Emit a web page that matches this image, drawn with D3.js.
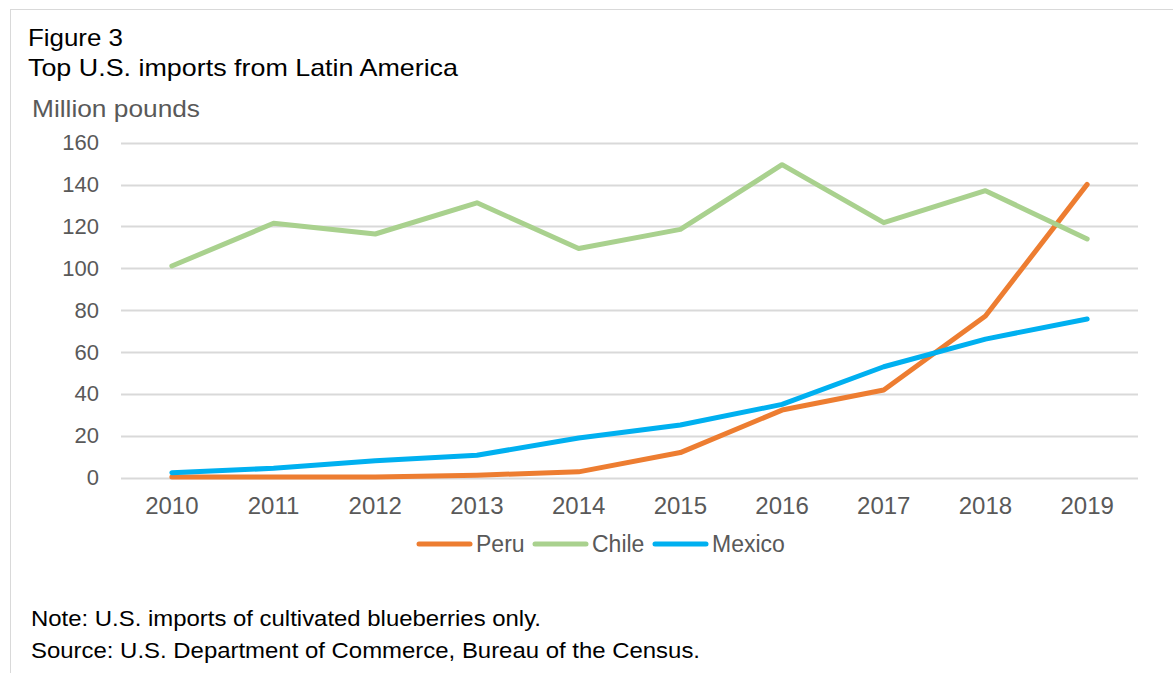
<!DOCTYPE html>
<html><head><meta charset="utf-8">
<script src="https://cdn.jsdelivr.net/npm/d3@7"></script>
<style>body{margin:0;background:#fff;font-family:"Liberation Sans",Arial,sans-serif}</style>
</head><body><svg id="c" width="1173" height="673"></svg>
<script>
const years = [2010,2011,2012,2013,2014,2015,2016,2017,2018,2019];
const peru = [0.3,0.3,0.3,1.2,2.8,12,32.3,41.9,77.2,140.1];
const chile = [101.1,121.5,116.4,131.3,109.5,118.6,149.5,121.8,137.1,114];
const mexico = [2.4,4.5,8.1,10.7,19.0,25.2,35.0,53,66.2,75.8];
const yTicks = [0,20,40,60,80,100,120,140,160];
const seriesNames = ["Peru","Chile","Mexico"];
const seriesColors = ["#ED7D31","#A9D18E","#00B0F0"];
const seriesData = [peru, chile, mexico];

const svg = d3.select("#c");
svg.append("rect").attr("x",10.5).attr("y",9.5).attr("width",1180).attr("height",700)
  .attr("fill","none").attr("stroke","#D9D9D9").attr("stroke-width",1);

function txt(xp, yp, size, color, s, len){
  const t = svg.append("text").attr("x",xp).attr("y",yp).attr("font-size",size).attr("fill",color).text(s);
  if (len) t.attr("textLength",len).attr("lengthAdjust","spacingAndGlyphs");
  return t;
}
txt(28,46,24,"#000","Figure 3",95);
txt(28,75.5,24,"#000","Top U.S. imports from Latin America",430);
txt(32,117,24,"#595959","Million pounds",168);

const x = d3.scaleBand().domain(years).range([121,1138]);
const y = d3.scaleLinear().domain([0,160]).range([477.7,142.7]);

const grid = svg.append("g");
grid.selectAll("line").data(yTicks).join("line")
  .attr("x1",121).attr("x2",1138).attr("y1",d=>Math.round(y(d))+0.5).attr("y2",d=>Math.round(y(d))+0.5)
  .attr("stroke","#D9D9D9").attr("stroke-width",2);

const yAxis = svg.append("g").attr("transform","translate(121,0)")
  .call(d3.axisLeft(y).tickValues(yTicks).tickSize(0).tickPadding(22));
yAxis.select(".domain").remove();
yAxis.selectAll("text").attr("font-size",22).attr("fill","#595959").attr("font-family","Liberation Sans, Arial, sans-serif");

const xAxis = svg.append("g").attr("transform","translate(0,478)")
  .call(d3.axisBottom(x).tickSize(0).tickPadding(19));
xAxis.select(".domain").remove();
xAxis.selectAll("text").attr("font-size",24).attr("fill","#595959").attr("font-family","Liberation Sans, Arial, sans-serif");

const line = d3.line().x((d,i)=>x(years[i])+x.bandwidth()/2).y(d=>y(d));
seriesData.forEach((s,k)=>{
  svg.append("path").datum(s).attr("d",line).attr("fill","none")
    .attr("stroke",seriesColors[k]).attr("stroke-width",5).attr("stroke-linejoin","round").attr("stroke-linecap","round");
});

const legX = [417,533,653];
const lg = svg.append("g");
seriesNames.forEach((n,k)=>{
  lg.append("line").attr("x1",legX[k]+2).attr("x2",legX[k]+53).attr("y1",544).attr("y2",544)
    .attr("stroke",seriesColors[k]).attr("stroke-width",5).attr("stroke-linecap","round");
  lg.append("text").attr("x",legX[k]+59).attr("y",552).attr("font-size",23).attr("fill","#595959").text(n);
});

txt(31,625.5,22,"#000","Note: U.S. imports of cultivated blueberries only.",510);
txt(31,657.5,22,"#000","Source: U.S. Department of Commerce, Bureau of the Census.",669);
</script></body></html>
